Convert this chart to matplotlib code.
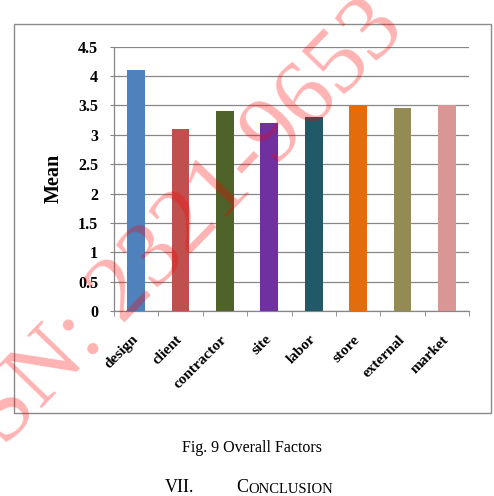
import matplotlib.pyplot as plt
from matplotlib.patches import Rectangle

# Dane do wykresu
factors = ['design', 'client', 'contractor', 'site', 'labor', 'store', 'external', 'market']
means = [4.1, 3.1, 3.4, 3.2, 3.3, 3.5, 3.45, 3.5]
bar_colors = ['#4F81BD', '#C0504D', '#4F6228', '#7030A0', '#215968', '#E46C0A', '#948A54', '#D99694']
y_ticks = [0, 0.5, 1, 1.5, 2, 2.5, 3, 3.5, 4, 4.5]
y_labels = ['0', '0.5', '1', '1.5', '2', '2.5', '3', '3.5', '4', '4.5']

plt.rcParams['font.family'] = ['Liberation Serif', 'DejaVu Serif']

fig = plt.figure(figsize=(4.94, 4.96), dpi=100)
fig.patch.set_facecolor('white')

# ramka wokol wykresu
fig.patches.append(Rectangle((0.0283, 0.1673), 0.9656, 0.7843, transform=fig.transFigure,
                             fill=False, edgecolor='#8a8a8a', linewidth=1.0))

ax = fig.add_axes([0.2308, 0.3730, 0.7186, 0.5329])
x = range(len(factors))
ax.bar(x, means, width=0.4, color=bar_colors, zorder=3)

ax.set_xlim(-0.5, len(factors) - 0.5)
ax.set_ylim(0, 4.5)
ax.set_yticks(y_ticks)
ax.set_yticklabels(y_labels, fontweight='bold', fontsize=11.5)
ax.yaxis.grid(True, color='#868686', linewidth=0.9, zorder=0)

# etykiety kategorii pod katem, kreski miedzy kategoriami
ax.set_xticks(list(x))
ax.set_xticklabels(factors, fontweight='bold', fontsize=11, rotation=45,
                   ha='right', va='center', rotation_mode='anchor')
ax.set_xticks([i - 0.5 for i in range(len(factors) + 1)], minor=True)
ax.tick_params(axis='x', which='major', length=0, pad=19)
ax.tick_params(axis='x', which='minor', length=3.5, color='#868686', direction='out')
ax.tick_params(axis='y', length=3, color='#868686', pad=8.5)

for side in ['top', 'right']:
    ax.spines[side].set_visible(False)
for side in ['left', 'bottom']:
    ax.spines[side].set_color('#868686')
    ax.spines[side].set_linewidth(0.9)

fig.text(0.108, 0.641, 'Mean', rotation=90, fontsize=14.5, fontweight='bold',
         ha='center', va='center')

# podpis i naglowek
fig.text(0.510, 0.0887, 'Fig. 9 Overall Factors', fontsize=11.5, ha='center', va='baseline')
fig.text(0.334, 0.008, 'VII.', fontsize=13, ha='left', va='baseline')
c_txt = fig.text(0.478, 0.008, 'C', fontsize=13, ha='left', va='baseline')
ax.annotate('ONCLUSION', xy=(1, 0), xycoords=c_txt, fontsize=10.5,
            ha='left', va='bottom', annotation_clip=False)

# znak wodny
fig.text(0.324, 0.488, 'ISSN: 2321-9653', rotation=46, fontsize=68, color='red',
         alpha=0.3, ha='center', va='center', rotation_mode='anchor', zorder=10)

plt.savefig('out.png', dpi=100, facecolor='white')
